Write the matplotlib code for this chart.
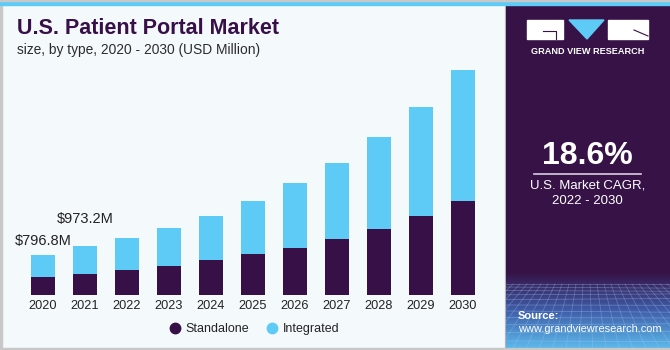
import numpy as np
import matplotlib
matplotlib.use("Agg")
import matplotlib.pyplot as plt
from matplotlib.lines import Line2D
from matplotlib.patches import Rectangle, Polygon

plt.rcParams["font.family"] = ["Liberation Sans", "DejaVu Sans"]

# ---------------------------------------------------------------------------
# data (USD Million)
# ---------------------------------------------------------------------------
years = [2020, 2021, 2022, 2023, 2024, 2025, 2026, 2027, 2028, 2029, 2030]
standalone = [349, 420, 487, 571, 684, 808, 926, 1109, 1300, 1550, 1852]
integrated = [448, 553, 642, 755, 878, 1038, 1274, 1491, 1807, 2148, 2581]
labels = {0: "$796.8M", 1: "$973.2M"}

PURPLE = "#371048"
CYAN = "#5ecbf7"
BG = "#f4f9fc"
W, H = 670, 350

fig = plt.figure(figsize=(W / 100, H / 100), dpi=100, facecolor=BG)

# background / panels in pixel coords
bg = fig.add_axes([0, 0, 1, 1])
bg.set_xlim(0, W)
bg.set_ylim(H, 0)
bg.axis("off")
bg.add_patch(Rectangle((0, 0), W, H, color=BG, zorder=0))
bg.add_patch(Rectangle((0, 0), 1.5, H, color="#c8c8c8", zorder=1))
bg.add_patch(Rectangle((0, 347.5), W, 3, color="#c8c8c8", zorder=1))
bg.add_patch(Rectangle((504.5, 0), 1.5, H, color="#d4d8dc", zorder=1))
bg.add_patch(Rectangle((506, 0), W - 506, 348, color="#361246", zorder=1))

# bottom gradient with a loose grid texture
grad = np.linspace(0, 1, 80)[:, None]
c0 = np.array([0x36, 0x12, 0x46]) / 255
c1 = np.array([0x3f, 0x5c, 0xa8]) / 255
c2 = np.array([0x5c, 0xb8, 0xea]) / 255
t = grad[..., None]
img = np.where(t < 0.5, c0 + (c1 - c0) * (t / 0.5), c1 + (c2 - c1) * ((t - 0.5) / 0.5))
img = np.repeat(img, 2, axis=1)
bg.imshow(img, extent=(506, W, 348, 272), aspect="auto", zorder=2, interpolation="bilinear")
clip = Rectangle((506, 282), W - 506, 66, transform=bg.transData, fc="none", ec="none")
bg.add_patch(clip)
yy = 284.0
k = 0
while yy < 348:
    ln, = bg.plot([506, W], [yy, yy + 1.2 * np.sin(k * 1.3)], color="#a9d0f2",
                  lw=0.5, alpha=0.4, zorder=3)
    ln.set_clip_path(clip)
    yy += 3 + k * 0.6
    k += 1
for k in range(-6, 26):
    xt = 506 + k * 7
    xb = 587 + (xt - 587) * 1.9
    ln, = bg.plot([xt, xb], [284, 348], color="#a9d0f2", lw=0.5, alpha=0.35, zorder=3)
    ln.set_clip_path(clip)
bg.add_patch(Rectangle((506, 348), W - 506, 3, color="#c8c8c8", zorder=4))

# top cyan strip
bg.add_patch(Rectangle((0, 0), W, 5, color=CYAN, zorder=5))
bg.add_patch(Rectangle((0, 0), W, 1, color="#c8c8c8", zorder=5))

# logo
bg.add_patch(Rectangle((527, 20), 36, 19, color="white", zorder=6))
bg.plot([543, 556, 556], [31, 31, 39], color="#361246", lw=0.8, zorder=7)
bg.add_patch(Polygon([(569, 20), (604, 20), (587, 39)], color=CYAN, zorder=6))
bg.add_patch(Rectangle((608, 20), 40, 19, color="white", zorder=6))
bg.plot([634, 648], [30, 36], color="#361246", lw=0.8, zorder=7)
bg.text(587.5, 51, "GRAND VIEW RESEARCH", color="white", fontsize=6.6,
        fontweight="bold", ha="center", va="center", zorder=7)

# CAGR block
bg.text(587.5, 156, "18.6%", color="white", fontsize=23, fontweight="bold",
        ha="center", va="center", zorder=7)
bg.plot([534, 641], [173.5, 173.5], color="#d9cfe0", lw=1.2, zorder=7)
bg.text(587.5, 185, "U.S. Market CAGR,", color="white", fontsize=9.5,
        ha="center", va="center", zorder=7)
bg.text(587.5, 201, "2022 - 2030", color="white", fontsize=9.5,
        ha="center", va="center", zorder=7)
bg.text(518, 316, "Source:", color="white", fontsize=8, fontweight="bold",
        ha="left", va="center", zorder=7)
bg.text(518, 329.5, "www.grandviewresearch.com", color="white", fontsize=7.9,
        ha="left", va="center", zorder=7)

# titles
bg.text(17, 29, "U.S. Patient Portal Market", color=PURPLE, fontsize=15.5,
        fontweight="heavy", ha="left", va="center", zorder=7)
bg.text(17, 50, "size, by type, 2020 - 2030 (USD Million)", color="#2b2b2b",
        fontsize=9.9, ha="left", va="center", zorder=7)

# ---------------------------------------------------------------------------
# bars
# ---------------------------------------------------------------------------
ax = fig.add_axes([10 / W, 55 / H, 486 / W, 235 / H])
ax.patch.set_alpha(0)
x = np.arange(len(years))
ax.bar(x, standalone, width=0.57, color=PURPLE, zorder=2)
ax.bar(x, integrated, width=0.57, bottom=standalone, color=CYAN, zorder=2)
ax.set_xlim(-0.786, 10.786)
ax.set_ylim(0, 235 * 19.7)
ax.set_xticks(x)
ax.set_xticklabels([str(y) for y in years], fontsize=9.2, color="#222222")
ax.tick_params(axis="x", length=0, pad=3.5)
ax.set_yticks([])
for s in ax.spines.values():
    s.set_visible(False)

offsets = {0: 9.7, 1: 19.4}
for i, txt in labels.items():
    tot = standalone[i] + integrated[i]
    ax.annotate(txt, (x[i], tot), xytext=(0, offsets[i]), textcoords="offset points",
                ha="center", va="center", fontsize=10.5, color="#222222")

handles = [
    Line2D([], [], marker="o", ls="", color=PURPLE, markersize=7.5, label="Standalone"),
    Line2D([], [], marker="o", ls="", color=CYAN, markersize=7.5, label="Integrated"),
]
fig.legend(handles=handles, loc="center", bbox_to_anchor=(254 / W, 21 / H), ncol=2,
           frameon=False, fontsize=9, handletextpad=0.4, columnspacing=1.3,
           handlelength=1.0, labelcolor="#222222")

fig.savefig("out.png", dpi=100, facecolor=BG)
